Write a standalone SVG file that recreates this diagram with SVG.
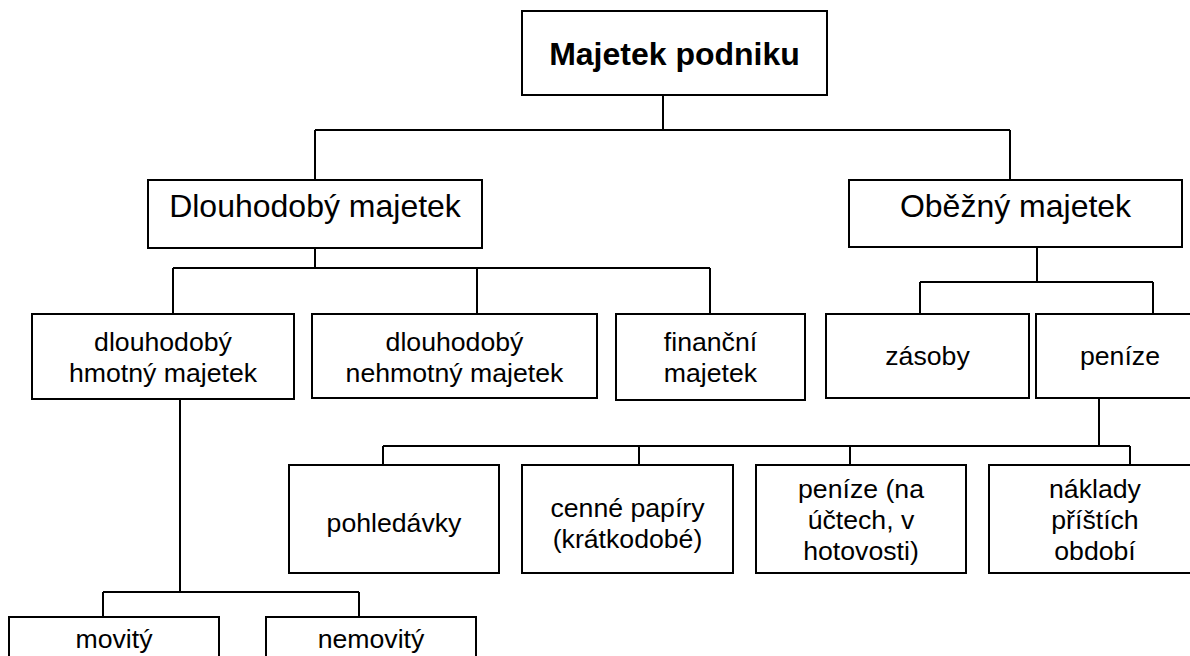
<svg xmlns="http://www.w3.org/2000/svg" width="1190" height="656" viewBox="0 0 1190 656">
<style>
.box{fill:#fff;stroke:#000;stroke-width:2}
.ln{fill:none;stroke:#000;stroke-width:2}
text{font-family:"Liberation Sans",Arial,sans-serif;fill:#000;text-anchor:middle}
.t1{font-size:32px;font-weight:bold}
.t2{font-size:32px}
.t3{font-size:26.67px}
</style>
<rect width="1190" height="656" fill="#fff"/>
<g id="connectors">
<path class="ln" d="M663,96V130M315,130H1010M315,130V180M1010,130V180"/>
<path class="ln" d="M315,248V268M173,268H710M173,268V314M477,268V314M710,268V314"/>
<path class="ln" d="M1037,247V282M920,282H1153M920,282V314M1153,282V314"/>
<path class="ln" d="M1099,399V446M383,446H1130M383,446V465M639,446V465M850,446V465M1130,446V465"/>
<path class="ln" d="M180,399V592M103,592H359M103,592V617M359,592V617"/>
</g>
<g id="n-root"><rect class="box" x="522" y="11" width="305" height="84"/><text class="t1" x="674.5" y="65">Majetek podniku</text></g>
<g id="n-dlouhodoby"><rect class="box" x="148" y="180" width="334" height="68"/><text class="t2" x="315" y="217">Dlouhodobý majetek</text></g>
<g id="n-obezny"><rect class="box" x="849" y="180" width="333" height="67"/><text class="t2" x="1015.5" y="217">Oběžný majetek</text></g>
<g id="n-hmotny"><rect class="box" x="32" y="314" width="262" height="85"/><text class="t3" x="163" y="351">dlouhodobý</text><text class="t3" x="163" y="382">hmotný majetek</text></g>
<g id="n-nehmotny"><rect class="box" x="312" y="314" width="285" height="84"/><text class="t3" x="454.5" y="351">dlouhodobý</text><text class="t3" x="454.5" y="382">nehmotný majetek</text></g>
<g id="n-financni"><rect class="box" x="616" y="314" width="189" height="86"/><text class="t3" x="710.5" y="351">finanční</text><text class="t3" x="710.5" y="382">majetek</text></g>
<g id="n-zasoby"><rect class="box" x="826" y="314" width="203" height="84"/><text class="t3" x="927.5" y="365">zásoby</text></g>
<g id="n-penize"><rect class="box" x="1036" y="314" width="168" height="84"/><text class="t3" x="1120" y="365">peníze</text></g>
<g id="n-pohledavky"><rect class="box" x="289" y="465" width="210" height="108"/><text class="t3" x="394" y="532">pohledávky</text></g>
<g id="n-cenne"><rect class="box" x="522" y="465" width="211" height="108"/><text class="t3" x="627.5" y="517">cenné papíry</text><text class="t3" x="627.5" y="548">(krátkodobé)</text></g>
<g id="n-penize-na"><rect class="box" x="756" y="465" width="210" height="108"/><text class="t3" x="861" y="498">peníze (na</text><text class="t3" x="861" y="529">účtech, v</text><text class="t3" x="861" y="560">hotovosti)</text></g>
<g id="n-naklady"><rect class="box" x="989" y="465" width="212" height="108"/><text class="t3" x="1095" y="498">náklady</text><text class="t3" x="1095" y="529">příštích</text><text class="t3" x="1095" y="560">období</text></g>
<g id="n-movity"><rect class="box" x="9" y="617" width="210" height="60"/><text class="t3" x="114" y="648">movitý</text></g>
<g id="n-nemovity"><rect class="box" x="266" y="617" width="210" height="60"/><text class="t3" x="371" y="648">nemovitý</text></g>
</svg>
